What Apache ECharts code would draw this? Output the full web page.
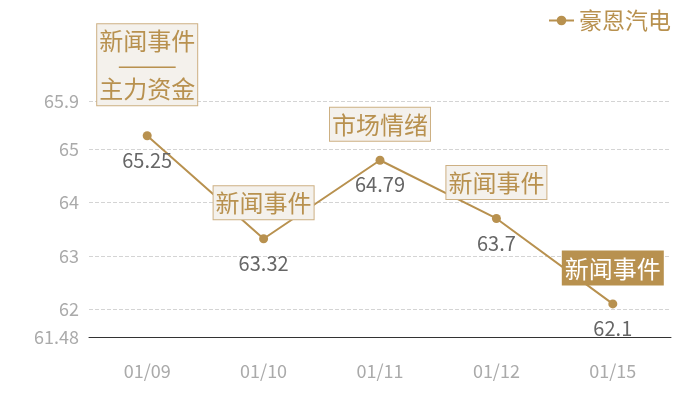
<!DOCTYPE html>
<html>
<head>
<meta charset="utf-8">
<script src="https://cdn.jsdelivr.net/npm/echarts@6/dist/echarts.min.js"></script>
<style>
  html, body { margin: 0; padding: 0; background: #fff; }
  #main { width: 700px; height: 400px; }
</style>
</head>
<body>
<div id="main"></div>
<script>
var dates = ['01/09', '01/10', '01/11', '01/12', '01/15'];
var prices = [65.25, 63.32, 64.79, 63.7, 62.1];
var events = ['新闻事件\n———\n主力资金', '新闻事件', '市场情绪', '新闻事件', '新闻事件'];
var yMin = 61.48;
var yMax = 65.9;

var gold = '#b8914f';
var font = 'Noto Sans CJK SC';

// 事件标注
var marks = dates.map(function (d, i) {
    var last = i === dates.length - 1;
    return {
        coord: [d, prices[i]],
        value: events[i],
        label: {
            distance: i === 0 ? 30 : 19,
            color: last ? '#fff' : gold,
            backgroundColor: last ? gold : '#f4f1ec',
            borderColor: last ? gold : '#cdb083'
        }
    };
});

var myChart = echarts.init(document.getElementById('main'));
myChart.setOption({
    animation: false,
    textStyle: { fontFamily: font },
    grid: { left: 89, right: 29, top: 101, bottom: 63 },
    legend: {
        right: 24,
        top: 4,
        itemWidth: 25,
        itemHeight: 12,
        itemGap: 6,
        textStyle: { color: gold, fontSize: 23, fontFamily: font },
        data: ['豪恩汽电']
    },
    xAxis: {
        type: 'category',
        data: dates,
        axisLine: { lineStyle: { color: '#333', width: 1 } },
        axisTick: { show: false },
        axisLabel: { color: '#aaa', fontSize: 18, margin: 25 }
    },
    yAxis: {
        type: 'value',
        min: yMin,
        max: yMax,
        axisLine: { show: false },
        axisTick: { show: false },
        axisLabel: { color: '#aaa', fontSize: 18, margin: 10 },
        splitLine: { lineStyle: { type: 'dashed', color: '#d4d4d4' } }
    },
    series: [{
        name: '豪恩汽电',
        type: 'line',
        data: prices,
        symbol: 'circle',
        symbolSize: 9,
        itemStyle: { color: gold },
        lineStyle: { color: gold, width: 2 },
        label: {
            show: true,
            position: 'bottom',
            distance: 10,
            color: '#666',
            fontSize: 20
        },
        markPoint: {
            symbol: 'circle',
            symbolSize: 1,
            itemStyle: { color: 'transparent' },
            label: {
                show: true,
                position: 'top',
                formatter: '{c}',
                fontSize: 24,
                lineHeight: 24,
                padding: [5, 2, 4, 2],
                borderWidth: 1,
                align: 'center'
            },
            data: marks
        }
    }]
});
</script>
</body>
</html>
